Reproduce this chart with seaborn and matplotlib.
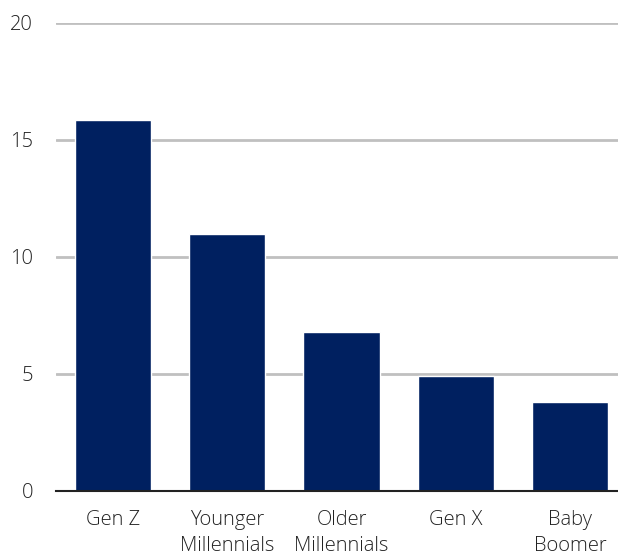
import pandas as pd
import matplotlib
matplotlib.use("Agg")
import matplotlib.pyplot as plt
import seaborn as sns

# -----------------------------
# Data
# -----------------------------
generations = ["Gen Z", "Younger\nMillennials", "Older\nMillennials", "Gen X", "Baby\nBoomer"]
values = [15.85, 11.0, 6.8, 4.9, 3.8]
y_ticks = [0, 5, 10, 15, 20]

df = pd.DataFrame({"generation": generations, "value": values})

sns.set_theme(style="white")
plt.rcParams["font.family"] = ["Open Sans", "DejaVu Sans"]

fig = plt.figure(figsize=(6.18, 5.58), dpi=100)
ax = fig.add_axes([0.0906, 0.1201, 0.924, 0.8387])

sns.barplot(data=df, x="generation", y="value", color="#002060",
            width=0.667, saturation=1, ax=ax)

ax.set_ylim(0, 20)
ax.set_yticks(y_ticks)
ax.yaxis.grid(True, color="#c0c0c0", linewidth=2)
ax.set_axisbelow(True)

for side in ["top", "right", "left"]:
    ax.spines[side].set_visible(False)
ax.spines["bottom"].set_color("#222222")
ax.spines["bottom"].set_linewidth(1.5)

ax.tick_params(axis="both", length=0, labelsize=14.5, colors="#222222")
ax.tick_params(axis="y", pad=16.5)
ax.tick_params(axis="x", pad=14)
for lbl in ax.get_yticklabels() + ax.get_xticklabels():
    lbl.set_fontweight("light")
    lbl.set_linespacing(1.4)
ax.set_xlabel("")
ax.set_ylabel("")

fig.savefig("out.png", dpi=100)
